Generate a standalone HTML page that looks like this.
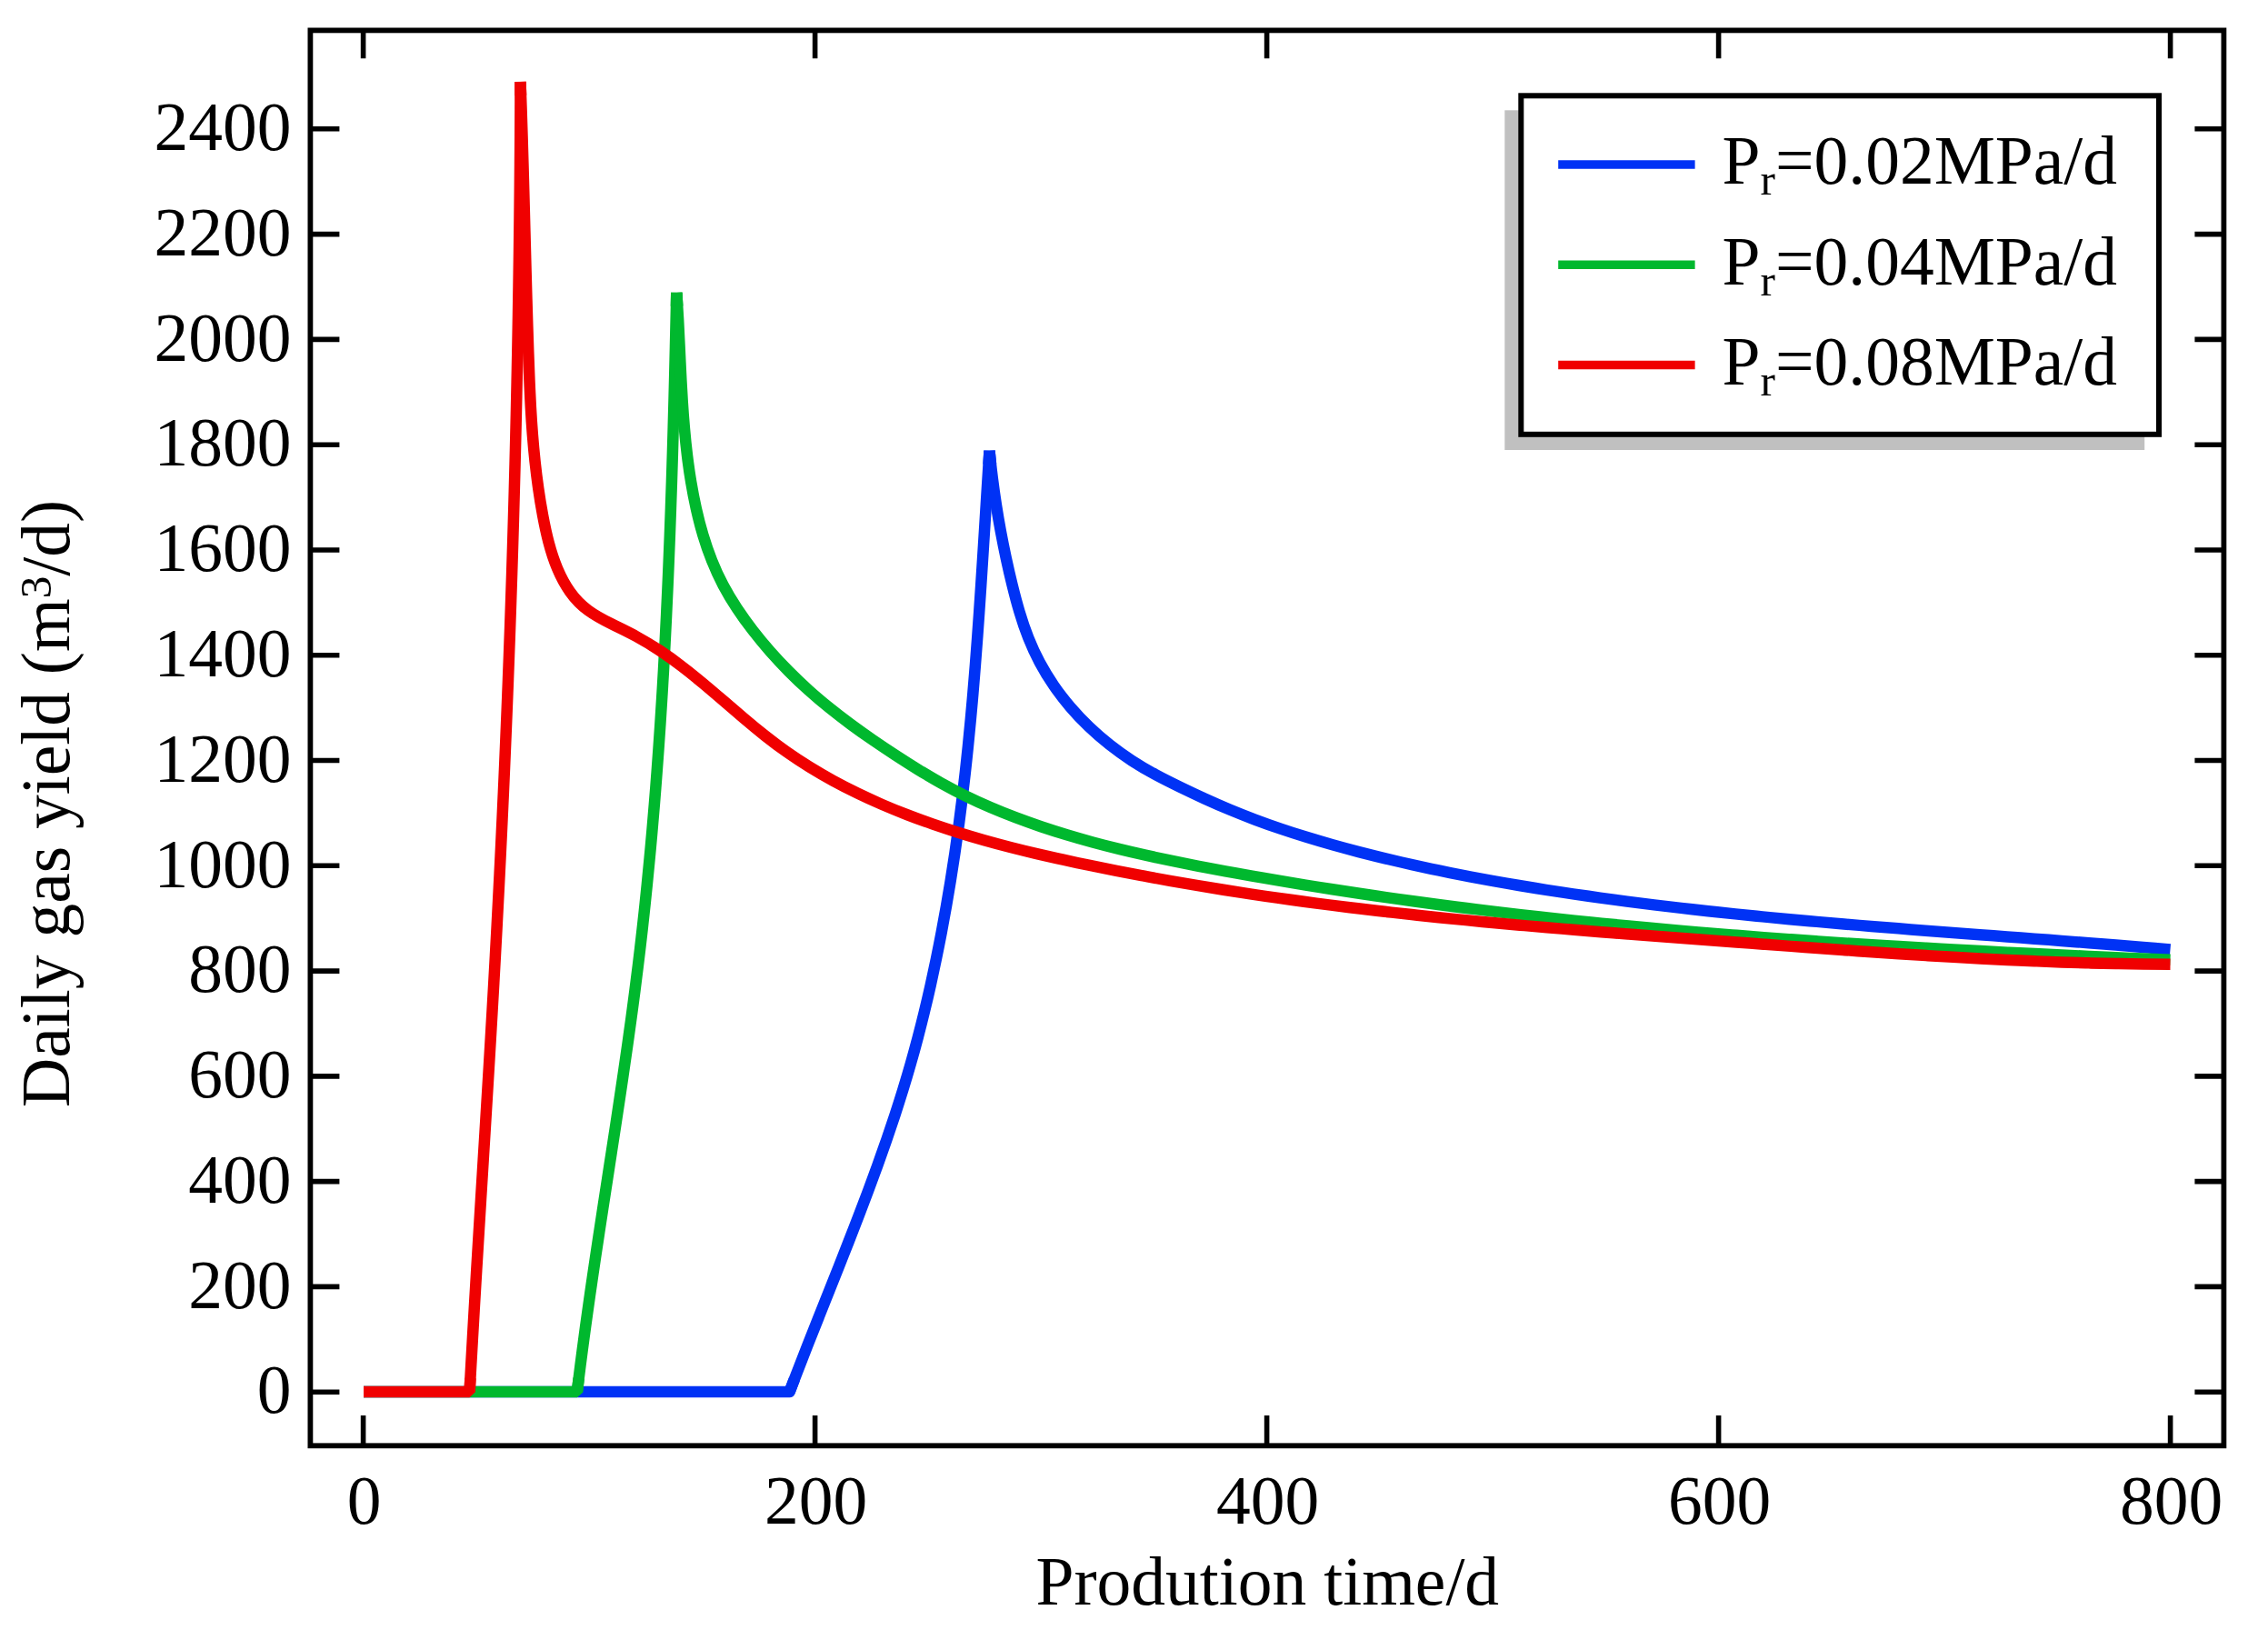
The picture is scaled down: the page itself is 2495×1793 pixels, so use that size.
<!DOCTYPE html>
<html lang="en"><head><meta charset="utf-8"><title>Daily gas yield vs production time</title>
<style>html,body{margin:0;padding:0;background:#fff}body{width:2495px;height:1793px;overflow:hidden}svg{display:block}</style>
</head><body>
<svg width="2495" height="1793" viewBox="0 0 2495 1793">
<rect width="2495" height="1793" fill="#fff"/>
<g fill="none" stroke="#0032f5" stroke-width="12.50" stroke-linecap="butt">
<path stroke-linejoin="round" d="M400.00 1531.00 L868.60 1531.00 L873.95 1517.00"/>
<path stroke-linejoin="round" d="M868.60 1531.00C872.10 1521.78 875.64 1512.58 879.21 1503.38C882.79 1494.19 886.39 1485.00 890.01 1475.82C893.63 1466.64 897.28 1457.46 900.93 1448.28C904.58 1439.11 908.23 1429.93 911.89 1420.76C915.54 1411.58 919.20 1402.41 922.84 1393.22C926.47 1384.04 930.10 1374.85 933.70 1365.66C937.30 1356.46 940.87 1347.26 944.41 1338.04C947.95 1328.83 951.45 1319.60 954.91 1310.35C958.36 1301.11 961.77 1291.85 965.12 1282.57C968.47 1273.30 971.76 1264.00 974.99 1254.68C978.21 1245.36 981.36 1236.02 984.44 1226.66C987.51 1217.29 990.50 1207.90 993.40 1198.48C996.31 1189.05 999.12 1179.60 1001.82 1170.12C1004.53 1160.64 1007.14 1151.12 1009.65 1141.58C1012.17 1132.04 1014.58 1122.47 1016.91 1112.88C1019.24 1103.28 1021.49 1093.66 1023.64 1084.03C1025.80 1074.39 1027.88 1064.73 1029.88 1055.05C1031.87 1045.38 1033.80 1035.68 1035.65 1025.98C1037.50 1016.27 1039.27 1006.55 1040.98 996.82C1042.69 987.09 1044.33 977.35 1045.91 967.60C1047.48 957.85 1048.99 948.09 1050.43 938.33C1051.88 928.56 1053.25 918.78 1054.57 909.00C1055.89 899.22 1057.14 889.43 1058.35 879.64C1059.55 869.85 1060.69 860.05 1061.79 850.24C1062.88 840.44 1063.93 830.63 1064.93 820.82C1065.93 811.00 1066.88 801.18 1067.80 791.36C1068.71 781.54 1069.59 771.71 1070.43 761.88C1071.27 752.05 1072.08 742.21 1072.85 732.37C1073.63 722.54 1074.38 712.70 1075.10 702.85C1075.82 693.01 1076.52 683.17 1077.20 673.32C1077.88 663.47 1078.54 653.62 1079.19 643.77C1079.84 633.92 1080.47 624.07 1081.09 614.22C1081.72 604.37 1082.33 594.51 1082.95 584.66C1083.56 574.81 1084.17 564.96 1084.78 555.10C1085.39 545.25 1086.00 535.40 1086.62 525.55C1087.24 515.70 1087.86 505.85 1088.50 496.00"/>
<path stroke-linejoin="round" d="M1088.50 496.00C1089.44 506.02 1090.54 515.98 1091.77 525.89C1093.01 535.81 1094.40 545.68 1095.93 555.51C1097.46 565.35 1099.14 575.16 1100.96 584.96C1102.78 594.76 1104.75 604.54 1106.87 614.32C1108.98 624.10 1111.24 633.89 1113.65 643.69C1116.06 653.49 1118.62 663.29 1121.50 672.98C1124.39 682.68 1127.59 692.25 1131.27 701.58C1134.95 710.91 1139.14 719.98 1143.84 728.76C1148.54 737.54 1153.72 746.03 1159.36 754.21C1164.99 762.39 1171.07 770.27 1177.54 777.83C1184.01 785.38 1190.88 792.61 1198.09 799.51C1205.30 806.40 1212.86 812.96 1220.72 819.16C1228.58 825.36 1236.73 831.21 1245.14 836.69C1253.54 842.16 1262.20 847.24 1271.04 852.01C1279.88 856.77 1288.88 861.25 1297.91 865.64C1306.95 870.03 1316.01 874.33 1325.13 878.50C1334.25 882.66 1343.41 886.69 1352.65 890.53C1361.88 894.38 1371.17 898.04 1380.52 901.55C1389.87 905.06 1399.27 908.41 1408.72 911.62C1418.17 914.83 1427.67 917.89 1437.21 920.83C1446.75 923.77 1456.33 926.59 1465.94 929.29C1475.56 932.00 1485.20 934.59 1494.88 937.10C1504.55 939.60 1514.26 942.01 1523.98 944.34C1533.70 946.68 1543.45 948.93 1553.21 951.11C1562.97 953.29 1572.76 955.39 1582.56 957.42C1592.36 959.46 1602.17 961.42 1612.00 963.32C1621.83 965.22 1631.67 967.06 1641.53 968.83C1651.38 970.61 1661.25 972.32 1671.12 973.99C1680.99 975.65 1690.88 977.25 1700.77 978.81C1710.65 980.37 1720.55 981.88 1730.45 983.34C1740.35 984.80 1750.25 986.22 1760.16 987.60C1770.07 988.97 1779.98 990.31 1789.89 991.60C1799.81 992.89 1809.73 994.14 1819.65 995.36C1829.58 996.58 1839.51 997.76 1849.44 998.90C1859.37 1000.05 1869.30 1001.16 1879.24 1002.24C1889.18 1003.32 1899.12 1004.37 1909.07 1005.39C1919.01 1006.41 1928.96 1007.40 1938.91 1008.37C1948.86 1009.34 1958.81 1010.28 1968.77 1011.20C1978.72 1012.12 1988.68 1013.02 1998.64 1013.89C2008.60 1014.77 2018.56 1015.63 2028.52 1016.47C2038.49 1017.31 2048.45 1018.14 2058.42 1018.95C2068.39 1019.76 2078.36 1020.55 2088.32 1021.34C2098.29 1022.13 2108.27 1022.90 2118.24 1023.67C2128.21 1024.43 2138.18 1025.19 2148.16 1025.95C2158.13 1026.70 2168.10 1027.45 2178.08 1028.19C2188.05 1028.94 2198.03 1029.68 2208.00 1030.43C2217.98 1031.17 2227.95 1031.92 2237.93 1032.66C2247.90 1033.41 2257.88 1034.16 2267.85 1034.92C2277.82 1035.68 2287.80 1036.44 2297.77 1037.22C2307.74 1037.99 2317.72 1038.77 2327.69 1039.57C2337.66 1040.36 2347.63 1041.17 2357.60 1041.99C2367.57 1042.81 2377.53 1043.65 2387.50 1044.50"/>
<path stroke-linejoin="bevel" d="M1087.54 510.97 L1088.50 496.00 L1090.03 510.98"/>
</g>
<g fill="none" stroke="#00b82e" stroke-width="12.50" stroke-linecap="butt">
<path stroke-linejoin="bevel" d="M400.00 1531.00 L634.90 1531.00 L636.71 1516.12"/>
<path stroke-linejoin="round" d="M634.90 1531.00C636.07 1521.19 637.28 1511.39 638.53 1501.59C639.78 1491.79 641.06 1482.00 642.38 1472.21C643.69 1462.42 645.04 1452.63 646.41 1442.85C647.78 1433.06 649.18 1423.28 650.60 1413.50C652.02 1403.72 653.46 1393.94 654.91 1384.17C656.37 1374.39 657.84 1364.62 659.32 1354.85C660.80 1345.07 662.29 1335.30 663.79 1325.53C665.29 1315.76 666.79 1305.99 668.30 1296.22C669.80 1286.45 671.31 1276.68 672.81 1266.91C674.31 1257.14 675.81 1247.37 677.30 1237.60C678.79 1227.83 680.26 1218.06 681.73 1208.28C683.19 1198.51 684.64 1188.73 686.07 1178.95C687.51 1169.18 688.92 1159.40 690.30 1149.61C691.69 1139.83 693.05 1130.05 694.39 1120.26C695.72 1110.47 697.02 1100.68 698.29 1090.88C699.56 1081.09 700.80 1071.29 701.99 1061.48C703.19 1051.68 704.35 1041.87 705.48 1032.06C706.60 1022.25 707.69 1012.44 708.75 1002.62C709.80 992.80 710.82 982.98 711.81 973.15C712.80 963.33 713.76 953.50 714.68 943.66C715.61 933.83 716.50 924.00 717.37 914.16C718.23 904.32 719.06 894.48 719.87 884.64C720.68 874.79 721.45 864.95 722.20 855.10C722.95 845.25 723.68 835.40 724.37 825.54C725.07 815.69 725.74 805.83 726.39 795.97C727.04 786.11 727.66 776.25 728.26 766.39C728.86 756.53 729.43 746.66 729.99 736.80C730.54 726.93 731.08 717.06 731.59 707.20C732.10 697.33 732.60 687.46 733.07 677.58C733.54 667.71 734.00 657.84 734.43 647.96C734.87 638.09 735.29 628.21 735.69 618.34C736.10 608.46 736.48 598.58 736.86 588.71C737.23 578.83 737.59 568.95 737.93 559.07C738.27 549.19 738.61 539.31 738.92 529.43C739.24 519.55 739.55 509.67 739.84 499.79C740.14 489.91 740.42 480.03 740.70 470.15C740.98 460.28 741.24 450.40 741.50 440.52C741.76 430.64 742.01 420.76 742.25 410.88C742.49 401.00 742.73 391.13 742.96 381.25C743.19 371.37 743.42 361.50 743.64 351.62C743.87 341.75 744.08 331.87 744.30 322.00"/>
<path stroke-linejoin="round" d="M744.30 322.00C745.00 331.89 745.59 341.80 746.13 351.72C746.66 361.65 747.13 371.59 747.60 381.54C748.06 391.49 748.52 401.45 749.02 411.40C749.52 421.36 750.05 431.32 750.69 441.27C751.32 451.21 752.04 461.15 752.91 471.07C753.77 480.99 754.78 490.90 755.98 500.78C757.18 510.66 758.57 520.51 760.21 530.33C761.84 540.15 763.72 549.95 765.89 559.68C768.07 569.41 770.55 579.08 773.40 588.61C776.26 598.15 779.48 607.55 783.16 616.75C786.83 625.96 790.96 634.97 795.58 643.72C800.21 652.47 805.32 660.99 810.80 669.28C816.28 677.58 822.12 685.66 828.23 693.54C834.33 701.43 840.70 709.12 847.30 716.62C853.90 724.11 860.74 731.41 867.77 738.49C874.80 745.58 882.04 752.46 889.45 759.12C896.86 765.79 904.43 772.23 912.16 778.47C919.88 784.71 927.74 790.75 935.73 796.64C943.71 802.54 951.81 808.28 960.00 813.91C968.19 819.54 976.47 825.07 984.82 830.53C993.17 835.98 1001.59 841.35 1010.11 846.57C1018.62 851.78 1027.22 856.85 1035.93 861.71C1044.64 866.56 1053.45 871.20 1062.38 875.59C1071.30 879.97 1080.34 884.12 1089.46 888.04C1098.58 891.97 1107.80 895.68 1117.08 899.20C1126.37 902.73 1135.72 906.06 1145.13 909.23C1154.54 912.40 1164.00 915.41 1173.51 918.28C1183.01 921.15 1192.56 923.87 1202.15 926.47C1211.74 929.07 1221.37 931.54 1231.03 933.90C1240.69 936.27 1250.38 938.53 1260.10 940.70C1269.82 942.87 1279.56 944.95 1289.32 946.96C1299.08 948.97 1308.85 950.91 1318.64 952.80C1328.43 954.68 1338.23 956.52 1348.03 958.32C1357.83 960.12 1367.64 961.88 1377.45 963.61C1387.26 965.34 1397.08 967.04 1406.90 968.70C1416.71 970.36 1426.54 971.99 1436.37 973.59C1446.19 975.19 1456.03 976.75 1465.86 978.28C1475.70 979.81 1485.54 981.31 1495.38 982.78C1505.22 984.25 1515.07 985.69 1524.92 987.10C1534.77 988.51 1544.62 989.89 1554.48 991.24C1564.34 992.59 1574.20 993.91 1584.06 995.21C1593.93 996.50 1603.79 997.76 1613.66 999.00C1623.53 1000.24 1633.41 1001.45 1643.28 1002.63C1653.16 1003.82 1663.04 1004.98 1672.92 1006.11C1682.80 1007.24 1692.69 1008.35 1702.58 1009.43C1712.47 1010.51 1722.36 1011.57 1732.25 1012.60C1742.14 1013.64 1752.04 1014.65 1761.94 1015.63C1771.84 1016.62 1781.74 1017.59 1791.64 1018.53C1801.54 1019.47 1811.45 1020.39 1821.36 1021.29C1831.26 1022.19 1841.17 1023.07 1851.08 1023.93C1861.00 1024.79 1870.91 1025.62 1880.83 1026.44C1890.74 1027.26 1900.66 1028.06 1910.58 1028.84C1920.50 1029.62 1930.42 1030.39 1940.34 1031.13C1950.26 1031.88 1960.19 1032.60 1970.12 1033.31C1980.04 1034.03 1989.97 1034.72 1999.90 1035.40C2009.83 1036.08 2019.76 1036.74 2029.69 1037.39C2039.62 1038.04 2049.55 1038.67 2059.48 1039.29C2069.42 1039.91 2079.35 1040.51 2089.29 1041.10C2099.22 1041.69 2109.16 1042.27 2119.10 1042.84C2129.04 1043.41 2138.97 1043.96 2148.91 1044.50C2158.85 1045.05 2168.79 1045.58 2178.73 1046.10C2188.67 1046.62 2198.61 1047.13 2208.55 1047.63C2218.49 1048.13 2228.43 1048.62 2238.38 1049.11C2248.32 1049.59 2258.26 1050.06 2268.20 1050.53C2278.14 1050.99 2288.08 1051.45 2298.03 1051.90C2307.97 1052.35 2317.91 1052.80 2327.85 1053.24C2337.79 1053.67 2347.74 1054.11 2357.68 1054.53C2367.62 1054.96 2377.56 1055.38 2387.50 1055.80"/>
<path stroke-linejoin="bevel" d="M743.97 336.99 L744.30 322.00 L745.28 336.92"/>
</g>
<g fill="none" stroke="#f00000" stroke-width="12.50" stroke-linecap="butt">
<path stroke-linejoin="bevel" d="M400.00 1531.00 L516.60 1531.00 L517.41 1516.02"/>
<path stroke-linejoin="round" d="M516.60 1531.00C517.14 1521.00 517.69 1511.00 518.24 1501.00C518.80 1491.00 519.36 1481.00 519.94 1471.00C520.51 1461.00 521.09 1451.00 521.67 1441.00C522.25 1431.00 522.84 1421.00 523.44 1411.00C524.03 1401.00 524.63 1391.01 525.24 1381.01C525.84 1371.01 526.45 1361.01 527.05 1351.01C527.66 1341.01 528.28 1331.02 528.89 1321.02C529.50 1311.02 530.12 1301.02 530.73 1291.03C531.34 1281.03 531.96 1271.03 532.57 1261.03C533.19 1251.03 533.80 1241.04 534.41 1231.04C535.02 1221.04 535.63 1211.04 536.23 1201.04C536.84 1191.04 537.44 1181.05 538.04 1171.05C538.64 1161.05 539.23 1151.05 539.82 1141.05C540.40 1131.05 540.99 1121.05 541.56 1111.05C542.14 1101.05 542.71 1091.05 543.27 1081.05C543.83 1071.05 544.38 1061.05 544.93 1051.05C545.47 1041.05 546.01 1031.05 546.54 1021.05C547.07 1011.04 547.59 1001.04 548.10 991.04C548.62 981.04 549.12 971.03 549.62 961.03C550.12 951.03 550.61 941.02 551.09 931.02C551.57 921.01 552.04 911.01 552.51 901.00C552.97 891.00 553.43 880.99 553.88 870.99C554.33 860.98 554.77 850.98 555.20 840.97C555.63 830.97 556.06 820.96 556.47 810.95C556.89 800.95 557.30 790.94 557.70 780.93C558.10 770.92 558.49 760.92 558.88 750.91C559.26 740.90 559.64 730.89 560.01 720.88C560.38 710.87 560.74 700.87 561.09 690.86C561.44 680.85 561.79 670.84 562.12 660.83C562.46 650.82 562.79 640.81 563.11 630.80C563.43 620.79 563.74 610.78 564.04 600.77C564.34 590.75 564.64 580.74 564.93 570.73C565.22 560.72 565.49 550.71 565.77 540.70C566.04 530.68 566.30 520.67 566.56 510.66C566.81 500.65 567.06 490.63 567.30 480.62C567.54 470.61 567.77 460.59 567.99 450.58C568.21 440.57 568.43 430.55 568.63 420.54C568.84 410.53 569.04 400.51 569.23 390.50C569.42 380.48 569.60 370.47 569.78 360.45C569.95 350.44 570.12 340.42 570.27 330.41C570.43 320.39 570.58 310.38 570.72 300.36C570.86 290.34 571.00 280.33 571.12 270.31C571.25 260.30 571.37 250.28 571.48 240.26C571.58 230.25 571.69 220.23 571.78 210.21C571.87 200.20 571.96 190.18 572.03 180.16C572.11 170.14 572.18 160.13 572.24 150.11C572.30 140.09 572.35 130.07 572.39 120.05C572.44 110.04 572.47 100.02 572.50 90.00"/>
<path stroke-linejoin="round" d="M572.50 90.00C572.87 99.89 573.22 109.80 573.55 119.73C573.89 129.65 574.21 139.59 574.51 149.54C574.82 159.48 575.11 169.44 575.39 179.41C575.68 189.38 575.95 199.35 576.22 209.33C576.49 219.31 576.76 229.29 577.02 239.27C577.28 249.26 577.54 259.24 577.81 269.23C578.07 279.21 578.34 289.19 578.61 299.17C578.88 309.15 579.16 319.12 579.45 329.08C579.74 339.04 580.04 349.00 580.35 358.94C580.66 368.89 580.99 378.82 581.33 388.74C581.68 398.65 582.04 408.56 582.45 418.45C582.86 428.34 583.32 438.23 583.87 448.11C584.42 457.99 585.07 467.87 585.83 477.76C586.60 487.64 587.49 497.52 588.54 507.42C589.59 517.31 590.81 527.22 592.22 537.14C593.63 547.06 595.24 556.99 597.09 566.95C598.94 576.91 601.01 586.89 603.59 596.65C606.16 606.42 609.22 615.98 613.04 625.09C616.86 634.20 621.42 642.90 627.01 650.83C632.61 658.76 639.32 665.74 647.18 671.48C655.04 677.22 663.89 681.94 672.96 686.45C682.03 690.96 691.27 695.32 700.07 700.13C708.88 704.95 717.39 710.11 725.66 715.58C733.93 721.05 741.97 726.84 749.85 732.85C757.73 738.86 765.45 745.10 773.09 751.45C780.72 757.81 788.28 764.29 795.82 770.79C803.37 777.29 810.91 783.81 818.51 790.26C826.11 796.71 833.78 803.07 841.59 809.26C849.40 815.45 857.35 821.46 865.51 827.20C873.67 832.93 882.02 838.42 890.52 843.67C899.02 848.93 907.67 853.94 916.44 858.73C925.21 863.52 934.09 868.08 943.05 872.44C952.01 876.79 961.06 880.93 970.18 884.88C979.30 888.83 988.49 892.59 997.75 896.17C1007.01 899.75 1016.34 903.16 1025.72 906.41C1035.10 909.66 1044.54 912.75 1054.03 915.71C1063.52 918.67 1073.05 921.48 1082.63 924.18C1092.21 926.88 1101.83 929.45 1111.48 931.93C1121.12 934.40 1130.81 936.77 1140.51 939.06C1150.21 941.35 1159.94 943.55 1169.68 945.69C1179.43 947.82 1189.18 949.89 1198.95 951.92C1208.71 953.94 1218.48 955.91 1228.25 957.84C1238.03 959.76 1247.81 961.64 1257.60 963.47C1267.39 965.30 1277.19 967.09 1286.99 968.83C1296.79 970.57 1306.60 972.26 1316.42 973.92C1326.23 975.57 1336.05 977.18 1345.88 978.74C1355.71 980.31 1365.54 981.84 1375.38 983.32C1385.22 984.81 1395.06 986.25 1404.91 987.66C1414.76 989.06 1424.62 990.43 1434.48 991.76C1444.34 993.09 1454.20 994.38 1464.07 995.64C1473.95 996.90 1483.82 998.12 1493.70 999.31C1503.58 1000.50 1513.47 1001.65 1523.36 1002.78C1533.25 1003.90 1543.14 1005.00 1553.04 1006.07C1562.94 1007.13 1572.84 1008.17 1582.75 1009.19C1592.65 1010.20 1602.56 1011.19 1612.47 1012.15C1622.39 1013.12 1632.30 1014.06 1642.22 1014.98C1652.13 1015.90 1662.05 1016.80 1671.98 1017.68C1681.90 1018.56 1691.82 1019.42 1701.75 1020.27C1711.68 1021.11 1721.60 1021.94 1731.53 1022.76C1741.46 1023.57 1751.39 1024.37 1761.32 1025.17C1771.25 1025.96 1781.19 1026.73 1791.12 1027.50C1801.05 1028.27 1810.98 1029.04 1820.92 1029.79C1830.85 1030.54 1840.78 1031.29 1850.72 1032.03C1860.65 1032.78 1870.58 1033.52 1880.51 1034.25C1890.45 1034.99 1900.38 1035.73 1910.31 1036.46C1920.24 1037.20 1930.16 1037.93 1940.09 1038.67C1950.02 1039.40 1959.95 1040.14 1969.87 1040.87C1979.80 1041.59 1989.72 1042.32 1999.65 1043.03C2009.57 1043.75 2019.50 1044.46 2029.43 1045.16C2039.35 1045.85 2049.28 1046.54 2059.20 1047.22C2069.13 1047.89 2079.06 1048.55 2088.98 1049.19C2098.91 1049.84 2108.84 1050.47 2118.77 1051.08C2128.70 1051.68 2138.63 1052.27 2148.57 1052.84C2158.50 1053.41 2168.44 1053.95 2178.37 1054.47C2188.31 1054.99 2198.25 1055.49 2208.19 1055.95C2218.13 1056.42 2228.08 1056.86 2238.02 1057.27C2247.97 1057.67 2257.92 1058.05 2267.88 1058.39C2277.83 1058.74 2287.79 1059.05 2297.75 1059.32C2307.71 1059.59 2317.67 1059.83 2327.64 1060.02C2337.61 1060.22 2347.58 1060.38 2357.56 1060.49C2367.53 1060.60 2377.51 1060.67 2387.50 1060.70"/>
<path stroke-linejoin="bevel" d="M572.45 105.00 L572.50 90.00 L573.04 104.92"/>
</g>
<rect x="341.4" y="33.4" width="2105.0" height="1556.9" fill="none" stroke="#000" stroke-width="5.8"/>
<path d="M399.6 1590.3V1557.0M399.6 33.4V64.3M896.6 1590.3V1557.0M896.6 33.4V64.3M1393.6 1590.3V1557.0M1393.6 33.4V64.3M1890.6 1590.3V1557.0M1890.6 33.4V64.3M2387.6 1590.3V1557.0M2387.6 33.4V64.3M341.4 1531.2H373.4M2446.4 1531.2H2414.4M341.4 1415.4H373.4M2446.4 1415.4H2414.4M341.4 1299.6H373.4M2446.4 1299.6H2414.4M341.4 1183.9H373.4M2446.4 1183.9H2414.4M341.4 1068.1H373.4M2446.4 1068.1H2414.4M341.4 952.3H373.4M2446.4 952.3H2414.4M341.4 836.5H373.4M2446.4 836.5H2414.4M341.4 720.7H373.4M2446.4 720.7H2414.4M341.4 605.0H373.4M2446.4 605.0H2414.4M341.4 489.2H373.4M2446.4 489.2H2414.4M341.4 373.4H373.4M2446.4 373.4H2414.4M341.4 257.6H373.4M2446.4 257.6H2414.4M341.4 141.8H373.4M2446.4 141.8H2414.4" fill="none" stroke="#000" stroke-width="5.6"/>
<g font-family='"Liberation Serif", "Times New Roman", Times, serif' font-size="75.5" fill="#000">
<text x="400.6" y="1675.5" text-anchor="middle">0</text>
<text x="897.6" y="1675.5" text-anchor="middle">200</text>
<text x="1394.6" y="1675.5" text-anchor="middle">400</text>
<text x="1891.6" y="1675.5" text-anchor="middle">600</text>
<text x="2388.6" y="1675.5" text-anchor="middle">800</text>
<text x="320.5" y="1554.4" text-anchor="end">0</text>
<text x="320.5" y="1438.6" text-anchor="end">200</text>
<text x="320.5" y="1322.8" text-anchor="end">400</text>
<text x="320.5" y="1207.1" text-anchor="end">600</text>
<text x="320.5" y="1091.3" text-anchor="end">800</text>
<text x="320.5" y="975.5" text-anchor="end">1000</text>
<text x="320.5" y="859.7" text-anchor="end">1200</text>
<text x="320.5" y="743.9" text-anchor="end">1400</text>
<text x="320.5" y="628.2" text-anchor="end">1600</text>
<text x="320.5" y="512.4" text-anchor="end">1800</text>
<text x="320.5" y="396.6" text-anchor="end">2000</text>
<text x="320.5" y="280.8" text-anchor="end">2200</text>
<text x="320.5" y="165.0" text-anchor="end">2400</text>
<text x="1394.3" y="1765.3" text-anchor="middle">Prodution time/d</text>
<text transform="translate(75.8 1218.2) rotate(-90)">Daily gas yield (m<tspan font-size="49.3" dy="-20">3</tspan><tspan dy="20">/d)</tspan></text>
</g>
<rect x="1655.3" y="121.3" width="703.9" height="373.7" fill="#c0c0c0"/>
<rect x="1673.3" y="105.3" width="701.7" height="372.5" fill="#fff" stroke="#000" stroke-width="6.0"/>
<g font-family='"Liberation Serif", "Times New Roman", Times, serif' font-size="75.5" fill="#000">
<path d="M1714.2 181.1H1864.6" stroke="#0032f5" stroke-width="9.5" fill="none"/>
<text x="1894.6" y="202.3">P<tspan font-size="49.3" dy="12">r</tspan><tspan dy="-12">=0.02MPa/d</tspan></text>
<path d="M1714.2 291.3H1864.6" stroke="#00b82e" stroke-width="9.5" fill="none"/>
<text x="1894.6" y="312.5">P<tspan font-size="49.3" dy="12">r</tspan><tspan dy="-12">=0.04MPa/d</tspan></text>
<path d="M1714.2 401.5H1864.6" stroke="#f00000" stroke-width="9.5" fill="none"/>
<text x="1894.6" y="422.7">P<tspan font-size="49.3" dy="12">r</tspan><tspan dy="-12">=0.08MPa/d</tspan></text>
</g>
</svg>
</body></html>
